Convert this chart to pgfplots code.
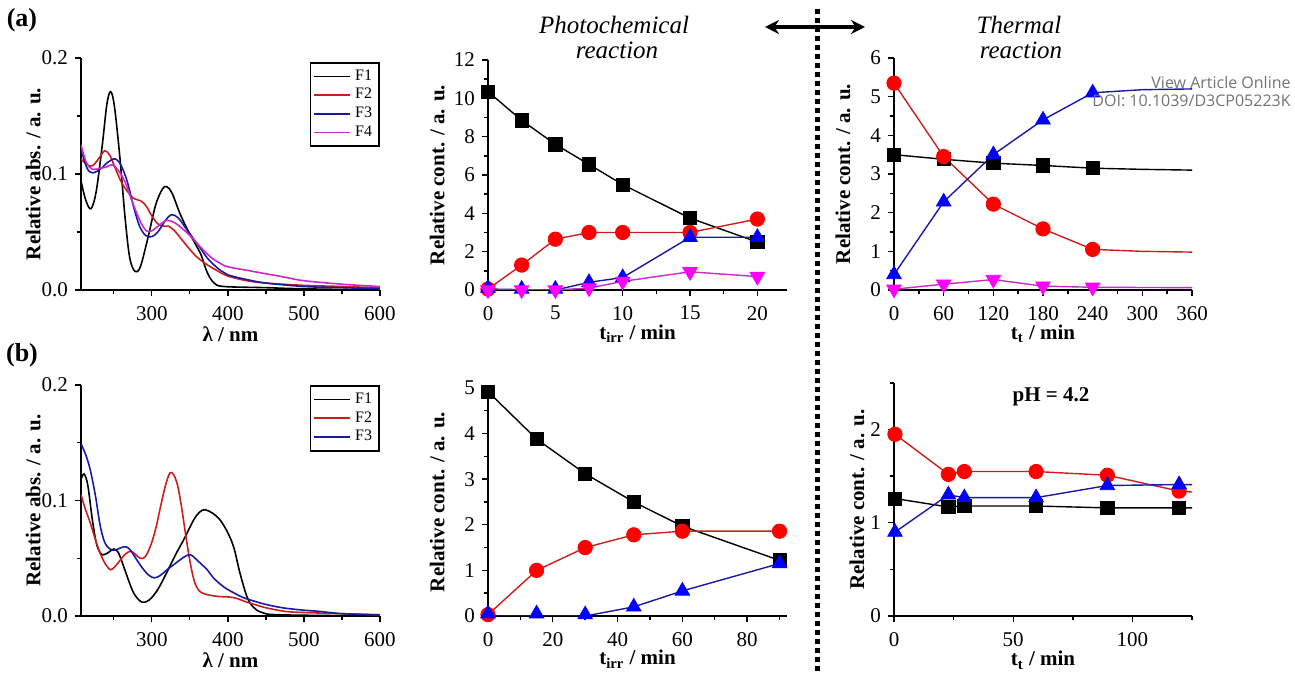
\documentclass[border=0pt]{standalone}
\usepackage{fontspec}
\setmainfont{Liberation Serif}
\newfontfamily\wmfont{Open Sans}
\usepackage{pgfplots}
\pgfplotsset{compat=1.18}
\usetikzlibrary{arrows.meta}
\definecolor{cred}{RGB}{255,0,0}
\definecolor{lred}{RGB}{205,30,30}
\definecolor{cblue}{RGB}{0,0,255}
\definecolor{lblue}{RGB}{25,25,165}
\definecolor{cmag}{RGB}{255,0,255}
\definecolor{lmag}{RGB}{205,40,205}
\definecolor{wm}{RGB}{115,115,115}
\pgfplotsset{
 base/.style={
  scale only axis, width=149.5pt,
  axis x line*=bottom, axis y line*=left,
  axis line style={line width=0.9pt,-},
  tick align=outside, tick style={line width=0.7pt, black},
  major tick length=3pt, minor tick length=2.2pt,
  tick label style={font=\fontsize{10.5}{12}\selectfont},
  /pgf/number format/assume math mode=true,
  label style={font=\bfseries\fontsize{10.5}{12}\selectfont},
  xticklabel style={yshift=-1.5pt},
  xlabel style={at={(axis description cs:0.5,-0.19)},anchor=center},
 },
 spec/.style={base, xmin=207, xmax=600, ymin=0, ymax=0.2,
  xtick={300,400,500,600}, minor xtick={250,350,450,550},
  ytick={0,0.1,0.2}, minor ytick={0.05,0.15},
  yticklabel style={/pgf/number format/.cd, fixed, fixed zerofill, precision=1},
  ylabel={Relative abs. / a. u.}, xlabel={λ / nm},
  ylabel style={at={(axis description cs:-0.16,0.5)},anchor=center},
  legend style={draw=black, line width=0.9pt, font=\fontsize{8}{9}\selectfont, inner sep=1.5pt, row sep=-1.5pt, cells={anchor=west}, legend cell align=left},
  legend image code/.code={\draw[#1,line width=0.8pt] (0pt,0pt) -- (18pt,0pt);},
 },
 sp/.style={smooth, tension=0.55, line width=0.8pt, no marks},
 kin/.style={base, ylabel={Relative cont. / a. u.}},
 ln/.style={line width=0.7pt, no marks},
 mk/.style={only marks},
 msq/.style={mark=square*, mark size=3.3pt, black},
 mci/.style={mark=*, mark size=3.6pt, cred},
 mtr/.style={mark=triangle*, mark size=4.2pt, cblue},
 mdt/.style={mark=triangle*, mark size=4.2pt, cmag, mark options={rotate=180}},
}
\begin{document}
\begin{tikzpicture}
\useasboundingbox (0,0) rectangle (647.5pt,336.5pt);

% ---------- (a) spectra ----------
\begin{axis}[spec, at={(40.5pt,191.5pt)}, anchor=south west, height=116pt,
  legend style={at={(rel axis cs:1,0.983)}, anchor=north east}]
\addplot[sp, black] coordinates {(207,0.094)(213,0.078)(220,0.070)(227,0.085)(235,0.125)(241,0.160)(246,0.171)(251,0.158)(258,0.115)(265,0.062)(271,0.028)(278,0.016)(285,0.020)(295,0.045)(305,0.073)(314,0.087)(320,0.089)(327,0.083)(337,0.066)(347,0.052)(357,0.040)(365,0.030)(373,0.015)(382,0.006)(395,0.003)(450,0.002)(500,0.001)(600,0.000)};
\addlegendentry{F1}
\addplot[sp, lred] coordinates {(207,0.113)(215,0.108)(222,0.107)(230,0.113)(238,0.120)(245,0.116)(252,0.105)(260,0.093)(268,0.085)(276,0.079)(285,0.077)(292,0.073)(300,0.064)(308,0.057)(316,0.055)(322,0.055)(330,0.051)(340,0.043)(350,0.035)(360,0.028)(370,0.023)(385,0.017)(400,0.012)(425,0.008)(450,0.006)(500,0.004)(550,0.003)(600,0.002)};
\addlegendentry{F2}
\addplot[sp, lblue] coordinates {(207,0.121)(215,0.105)(222,0.101)(232,0.104)(242,0.110)(252,0.113)(260,0.107)(268,0.093)(276,0.072)(284,0.055)(292,0.047)(300,0.046)(308,0.050)(318,0.060)(326,0.065)(335,0.062)(345,0.053)(355,0.044)(365,0.035)(375,0.026)(390,0.017)(400,0.013)(425,0.009)(450,0.006)(500,0.003)(550,0.002)(600,0.001)};
\addlegendentry{F3}
\addplot[sp, lmag] coordinates {(207,0.125)(214,0.110)(222,0.104)(232,0.105)(240,0.106)(248,0.108)(256,0.103)(265,0.093)(275,0.075)(285,0.059)(293,0.051)(300,0.051)(310,0.056)(320,0.060)(330,0.058)(340,0.053)(350,0.047)(360,0.040)(370,0.033)(380,0.027)(390,0.023)(400,0.020)(425,0.017)(450,0.014)(475,0.011)(500,0.008)(550,0.005)(600,0.003)};
\addlegendentry{F4}
\end{axis}

% ---------- (a) photochemical ----------
\begin{axis}[kin, at={(244pt,191.5pt)}, anchor=south west, height=115pt,
  xmin=0, xmax=22.2, ymin=0, ymax=12,
  xtick={0,5,10,15,20}, minor xtick={2.5,7.5,12.5,17.5},
  ytick={0,2,...,12}, minor ytick={1,3,...,11},
  xlabel={t\textsubscript{irr} / min},
  ylabel style={at={(axis description cs:-0.17,0.5)},anchor=center}]
\addplot[ln, black] coordinates {(0,10.35)(2.5,8.85)(5,7.6)(7.5,6.55)(10,5.5)(15,3.75)(20,2.5)};
\addplot[mk, msq] coordinates {(0,10.35)(2.5,8.85)(5,7.6)(7.5,6.55)(10,5.5)(15,3.75)(20,2.5)};
\addplot[ln, lred] coordinates {(0,0.05)(2.5,1.3)(5,2.65)(7.5,3.0)(10,3.0)(15,3.0)(20,3.7)};
\addplot[mk, mci] coordinates {(0,0.05)(2.5,1.3)(5,2.65)(7.5,3.0)(10,3.0)(15,3.0)(20,3.7)};
\addplot[ln, lblue] coordinates {(0,0.05)(2.5,0.02)(5,0.0)(7.5,0.4)(10,0.65)(15,2.75)(20,2.75)};
\addplot[mk, mtr] coordinates {(0,0.1)(2.5,0.05)(5,0.05)(7.5,0.4)(10,0.65)(15,2.75)(20,2.75)};
\addplot[ln, lmag] coordinates {(0,0)(2.5,0)(5,0)(7.5,0.1)(10,0.45)(15,0.95)(20,0.7)};
\addplot[mk, mdt] coordinates {(0,0)(2.5,0)(5,0)(7.5,0.1)(10,0.45)(15,0.95)(20,0.7)};
\end{axis}

% ---------- (a) thermal ----------
\begin{axis}[kin, at={(447pt,191.5pt)}, anchor=south west, height=116pt, width=149pt,
  xmin=0, xmax=360, ymin=0, ymax=6,
  xtick={0,60,...,360}, minor xtick={30,90,...,330},
  ytick={0,1,...,6}, minor ytick={0.5,1.5,...,5.5},
  xlabel={t\textsubscript{t} / min},
  ylabel style={at={(axis description cs:-0.171,0.5)},anchor=center}]
\addplot[ln, black] coordinates {(0,3.5)(60,3.38)(120,3.28)(180,3.22)(240,3.15)(300,3.12)(360,3.1)};
\addplot[mk, msq] coordinates {(0,3.5)(60,3.38)(120,3.28)(180,3.22)(240,3.15)};
\addplot[ln, lred] coordinates {(0,5.35)(60,3.45)(120,2.22)(180,1.58)(240,1.05)(300,1.0)(360,0.98)};
\addplot[mk, mci] coordinates {(0,5.35)(60,3.45)(120,2.22)(180,1.58)(240,1.05)};
\addplot[ln, lblue] coordinates {(0,0.4)(60,2.28)(120,3.5)(180,4.4)(240,5.1)(300,5.18)(360,5.2)};
\addplot[mk, mtr] coordinates {(0,0.4)(60,2.28)(120,3.5)(180,4.4)(240,5.1)};
\addplot[ln, lmag] coordinates {(0,0.02)(60,0.15)(120,0.27)(180,0.1)(240,0.07)(300,0.065)(360,0.06)};
\addplot[mk, mdt] coordinates {(0,0.02)(60,0.15)(120,0.27)(180,0.1)(240,0.07)};
\end{axis}

% ---------- (b) spectra ----------
\begin{axis}[spec, at={(40.5pt,28.5pt)}, anchor=south west, height=115.5pt,
  legend style={at={(rel axis cs:1,1)}, anchor=north east}]
\addplot[sp, black] coordinates {(207,0.118)(211,0.123)(216,0.113)(222,0.083)(228,0.061)(235,0.053)(243,0.055)(250,0.058)(256,0.055)(263,0.043)(270,0.030)(277,0.019)(287,0.012)(297,0.014)(308,0.023)(320,0.038)(332,0.054)(342,0.066)(355,0.083)(363,0.090)(370,0.092)(380,0.089)(390,0.083)(400,0.072)(408,0.059)(416,0.037)(425,0.017)(433,0.008)(445,0.003)(470,0.001)(600,0)};
\addlegendentry{F1}
\addplot[sp, lred] coordinates {(207,0.105)(213,0.092)(219,0.081)(226,0.066)(233,0.053)(240,0.044)(246,0.040)(252,0.043)(258,0.048)(266,0.054)(273,0.056)(279,0.053)(285,0.050)(291,0.051)(298,0.060)(305,0.075)(312,0.096)(318,0.113)(324,0.124)(329,0.122)(334,0.113)(339,0.095)(344,0.073)(350,0.048)(356,0.030)(362,0.022)(370,0.019)(386,0.017)(407,0.016)(425,0.012)(440,0.009)(451,0.007)(475,0.004)(500,0.003)(550,0.002)(600,0.001)};
\addlegendentry{F2}
\addplot[sp, lblue] coordinates {(207,0.149)(213,0.140)(219,0.127)(226,0.104)(232,0.079)(238,0.064)(245,0.058)(252,0.057)(259,0.059)(266,0.060)(272,0.057)(279,0.050)(286,0.043)(295,0.036)(303,0.033)(311,0.035)(320,0.040)(330,0.045)(338,0.049)(345,0.052)(351,0.053)(357,0.050)(365,0.045)(373,0.040)(381,0.033)(395,0.025)(408,0.020)(420,0.016)(434,0.013)(450,0.010)(473,0.007)(500,0.005)(520,0.004)(550,0.002)(600,0.001)};
\addlegendentry{F3}
\end{axis}

% ---------- (b) photochemical ----------
\begin{axis}[kin, at={(244pt,28.5pt)}, anchor=south west, height=114pt,
  xmin=0, xmax=92.3, ymin=0, ymax=5,
  xtick={0,20,...,80}, minor xtick={10,30,...,90},
  ytick={0,1,...,5}, minor ytick={0.5,1.5,...,4.5},
  xlabel={t\textsubscript{irr} / min},
  ylabel style={at={(axis description cs:-0.17,0.5)},anchor=center}]
\addplot[ln, black] coordinates {(0,4.92)(15,3.88)(30,3.12)(45,2.5)(60,1.97)(90,1.22)};
\addplot[mk, msq] coordinates {(0,4.92)(15,3.88)(30,3.12)(45,2.5)(60,1.97)(90,1.22)};
\addplot[ln, lred] coordinates {(0,0.03)(15,1.0)(30,1.5)(45,1.78)(60,1.86)(90,1.86)};
\addplot[mk, mci] coordinates {(0,0.03)(15,1.0)(30,1.5)(45,1.78)(60,1.86)(90,1.86)};
\addplot[ln, lblue] coordinates {(0,0)(15,0)(30,0)(45,0.2)(60,0.55)(90,1.15)};
\addplot[mk, mtr] coordinates {(0,0.05)(15,0.05)(30,0.03)(45,0.2)(60,0.55)(90,1.15)};
\end{axis}

% ---------- (b) thermal ----------
\begin{axis}[kin, at={(447pt,28.5pt)}, anchor=south west, height=116.5pt, width=149pt,
  xmin=0, xmax=125, ymin=0, ymax=2.5,
  xtick={0,50,100}, minor xtick={25,75,125},
  ytick={0,1,2}, minor ytick={0.5,1.5,2.5},
  xlabel={t\textsubscript{t} / min},
  ylabel style={at={(axis description cs:-0.124,0.5)},anchor=center}]
\addplot[ln, black] coordinates {(0.4,1.26)(22.8,1.17)(29.5,1.18)(59.6,1.18)(89.5,1.16)(119.6,1.16)(125,1.16)};
\addplot[mk, msq] coordinates {(0.4,1.26)(22.8,1.17)(29.5,1.18)(59.6,1.18)(89.5,1.16)(119.6,1.16)};
\addplot[ln, lred] coordinates {(0.4,1.95)(22.8,1.52)(29.5,1.55)(59.6,1.55)(89.5,1.51)(119.6,1.34)(125,1.33)};
\addplot[mk, mci] coordinates {(0.4,1.95)(22.8,1.52)(29.5,1.55)(59.6,1.55)(89.5,1.51)(119.6,1.34)};
\addplot[ln, lblue] coordinates {(0.4,0.9)(22.8,1.30)(29.5,1.27)(59.6,1.27)(89.5,1.40)(119.6,1.41)(125,1.41)};
\addplot[mk, mtr] coordinates {(0.4,0.9)(22.8,1.30)(29.5,1.27)(59.6,1.27)(89.5,1.40)(119.6,1.41)};
\end{axis}

% ---------- annotations ----------
\node[font=\bfseries\fontsize{13}{14}\selectfont] at (11pt,326.5pt) {(a)};
\node[font=\bfseries\fontsize{13}{14}\selectfont] at (11pt,159pt) {(b)};
\node[font=\itshape\fontsize{12.5}{12.5}\selectfont, inner sep=0pt] at (307pt,324pt) {Photochemical};
\node[font=\itshape\fontsize{12.5}{12.5}\selectfont, inner sep=0pt] at (308.5pt,311.5pt) {reaction};
\node[font=\itshape\fontsize{12.5}{12.5}\selectfont, inner sep=0pt] at (509.5pt,324pt) {Thermal};
\node[font=\itshape\fontsize{12.5}{12.5}\selectfont, inner sep=0pt] at (510.5pt,311.5pt) {reaction};
\node[font=\bfseries\fontsize{10.5}{12}\selectfont] at (525.5pt,138pt) {pH = 4.2};
\draw[line width=2.5pt, dash pattern=on 2.5pt off 2pt] (408.5pt,332pt) -- (408.5pt,0pt);
\draw[line width=2pt, {Stealth[length=7pt,width=7pt]}-{Stealth[length=7pt,width=7pt]}] (382.5pt,323pt) -- (432.5pt,323pt);
\node[font=\wmfont\fontsize{8}{9}\selectfont, text=wm, anchor=east, inner sep=0pt] at (645.5pt,295pt) {View Article Online};
\node[font=\wmfont\fontsize{8}{9}\selectfont, text=wm, anchor=east, inner sep=0pt] at (645.5pt,286pt) {DOI: 10.1039/D3CP05223K};
\end{tikzpicture}
\end{document}
